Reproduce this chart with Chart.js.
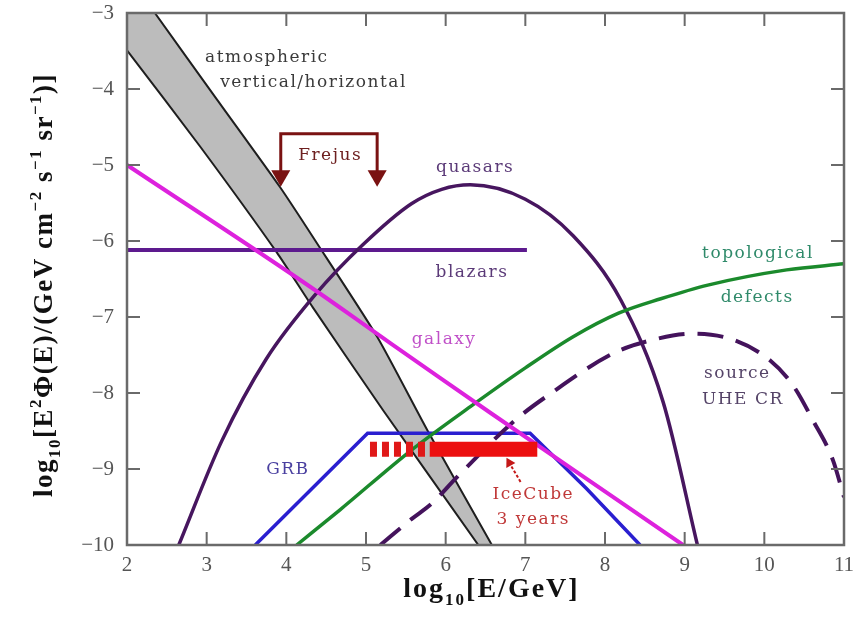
<!DOCTYPE html>
<html>
<head>
<meta charset="utf-8">
<script src="https://cdn.jsdelivr.net/npm/chart.js@4.4.1/dist/chart.umd.min.js"></script>
<style>
  html, body { margin: 0; padding: 0; background: #fff; }
  #wrap { width: 856px; height: 627px; position: relative; }
</style>
</head>
<body>
<div id="wrap"><canvas id="flux"></canvas></div>
<script>
// axis ticks
const xTickValues = [2, 3, 4, 5, 6, 7, 8, 9, 10, 11];
const xTickLabels = ['2', '3', '4', '5', '6', '7', '8', '9', '10', '11'];
const yTickValues = [-10, -9, -8, -7, -6, -5, -4, -3];
const yTickLabels = ['\u221210', '\u22129', '\u22128', '\u22127', '\u22126', '\u22125', '\u22124', '\u22123'];

// atmospheric band (vertical / horizontal edges)
const atmUpperX = [2.35, 3.13, 3.92, 4.36, 5.14, 5.77, 6.58];
const atmUpperY = [-3, -4.14, -5.29, -5.99, -7.26, -8.49, -10];
const atmLowerX = [2, 2.92, 3.88, 4.33, 5.21, 6.41];
const atmLowerY = [-3.49, -4.76, -6.15, -6.87, -8.22, -10];

// quasars
const quasarX = [2.65, 3.19, 3.75, 4.36, 4.96, 5.57, 5.95, 6.31, 7.0, 7.6, 8.2, 8.73, 9.16];
const quasarY = [-10, -8.63, -7.55, -6.71, -6.05, -5.51, -5.32, -5.26, -5.45, -5.93, -6.78, -8.12, -10];

// blazars
const blazarX = [2, 7.02];
const blazarY = [-6.12, -6.12];

// galaxy
const galaxyX = [2, 4.17, 5.30, 6.56, 8.98];
const galaxyY = [-5.0, -6.51, -7.34, -8.26, -10];

// GRB
const grbX = [3.61, 5.02, 7.06, 7.77, 8.44];
const grbY = [-10, -8.53, -8.53, -9.26, -10];

// topological defects
const topoX = [4.13, 4.67, 5.56, 6.31, 7.0, 7.6, 8.17, 8.7, 9.29, 10.28, 11];
const topoY = [-10, -9.54, -8.76, -8.18, -7.67, -7.26, -6.95, -6.76, -6.58, -6.38, -6.3];

// source UHE CR (dashed)
const uhecrX = [5.18, 5.57, 5.83, 6.13, 6.87, 7.30, 8.12, 8.6, 9.1, 9.61, 10.07, 10.36, 10.61, 10.86, 11.0];
const uhecrY = [-10, -9.66, -9.45, -9.12, -8.36, -8.02, -7.47, -7.30, -7.22, -7.30, -7.57, -7.90, -8.36, -8.88, -9.37];

// Frejus limit bracket
const frejusX = [3.93, 3.93, 5.14, 5.14];
const frejusY = [-5.14, -4.59, -4.59, -5.14];

// IceCube 3 years
const icecubeX = [5.8, 7.15];
const icecubeY = [-8.74, -8.74];
const icecubeDashX = [5.05, 5.8];
const icecubeDashY = [-8.74, -8.74];
const icecubeArrowX = [6.94, 6.80];
const icecubeArrowY = [-9.17, -8.92];

const pts = (xs, ys) => xs.map((x, i) => ({ x, y: ys[i] }));

// band polygon: top-left corner, upper edge down, lower edge back up
const bandPoly = [{ x: 2, y: -3 }]
  .concat(pts(atmUpperX, atmUpperY))
  .concat(pts(atmLowerX, atmLowerY).reverse());

// in-plot labels, in data coordinates
const labels = [
  { t: 'atmospheric', x: 2.98, y: -3.58, c: '#3a3a3a', a: 'left' },
  { t: 'vertical/horizontal', x: 3.17, y: -3.92, c: '#3a3a3a', a: 'left' },
  { t: 'Frejus', x: 4.55, y: -4.87, c: '#6e2020', a: 'center' },
  { t: 'quasars', x: 6.37, y: -5.03, c: '#5b3a78', a: 'center' },
  { t: 'blazars', x: 6.33, y: -6.42, c: '#5b3a78', a: 'center' },
  { t: 'galaxy', x: 5.98, y: -7.30, c: '#c050c8', a: 'center' },
  { t: 'topological', x: 9.92, y: -6.17, c: '#2f8a6a', a: 'center' },
  { t: 'defects', x: 9.91, y: -6.74, c: '#2f8a6a', a: 'center' },
  { t: 'source', x: 9.66, y: -7.74, c: '#554468', a: 'center' },
  { t: 'UHE CR', x: 9.73, y: -8.08, c: '#554468', a: 'center' },
  { t: 'GRB', x: 4.02, y: -9.01, c: '#4a40a0', a: 'center' },
  { t: 'IceCube', x: 7.10, y: -9.34, c: '#c03838', a: 'center' },
  { t: '3 years', x: 7.10, y: -9.67, c: '#c03838', a: 'center' }
];

function drawRich(ctx, parts, size, spacing) {
  const big = 'bold ' + size + 'px "Liberation Serif", "DejaVu Serif", serif';
  const small = 'bold ' + Math.round(size * 0.62) + 'px "Liberation Serif", "DejaVu Serif", serif';
  ctx.letterSpacing = spacing + 'px';
  let total = 0;
  parts.forEach(p => { ctx.font = p.s ? small : big; total += ctx.measureText(p.t).width; });
  let x = -total / 2;
  ctx.textAlign = 'left';
  ctx.textBaseline = 'alphabetic';
  parts.forEach(p => {
    ctx.font = p.s ? small : big;
    const dy = p.s === 'sub' ? size * 0.28 : p.s === 'sup' ? -size * 0.42 : 0;
    ctx.fillText(p.t, x, size * 0.35 + dy);
    x += ctx.measureText(p.t).width;
  });
  ctx.letterSpacing = '0px';
}

const framePlugin = {
  id: 'frame',
  afterDraw(chart) {
    const { ctx, chartArea: a, scales } = chart;
    ctx.save();
    // frame
    ctx.strokeStyle = '#6a6a6a';
    ctx.lineWidth = 2.5;
    ctx.strokeRect(a.left, a.top, a.right - a.left, a.bottom - a.top);
    // inward ticks on all four sides
    const tl = 13;
    ctx.lineWidth = 2;
    ctx.beginPath();
    scales.x.ticks.forEach(t => {
      const px = scales.x.getPixelForValue(t.value);
      if (px <= a.left + 1 || px >= a.right - 1) return;
      ctx.moveTo(px, a.bottom); ctx.lineTo(px, a.bottom - tl);
      ctx.moveTo(px, a.top); ctx.lineTo(px, a.top + tl);
    });
    scales.y.ticks.forEach(t => {
      const py = scales.y.getPixelForValue(t.value);
      if (py <= a.top + 1 || py >= a.bottom - 1) return;
      ctx.moveTo(a.left, py); ctx.lineTo(a.left + tl, py);
      ctx.moveTo(a.right, py); ctx.lineTo(a.right - tl, py);
    });
    ctx.stroke();

    // labels
    ctx.font = '17px "DejaVu Serif", serif';
    ctx.letterSpacing = '1.5px';
    ctx.textBaseline = 'middle';
    labels.forEach(l => {
      ctx.fillStyle = l.c;
      ctx.textAlign = l.a;
      ctx.fillText(l.t, scales.x.getPixelForValue(l.x), scales.y.getPixelForValue(l.y));
    });
    ctx.letterSpacing = '0px';

    // axis titles
    ctx.fillStyle = '#111';
    ctx.save();
    ctx.translate((a.left + a.right) / 2 + 6, 587);
    drawRich(ctx, [{ t: 'log' }, { t: '10', s: 'sub' }, { t: '[E/GeV]' }], 28, 2);
    ctx.restore();
    ctx.save();
    ctx.translate(43, 285);
    ctx.rotate(-Math.PI / 2);
    drawRich(ctx, [
      { t: 'log' }, { t: '10', s: 'sub' }, { t: '[E' }, { t: '2', s: 'sup' },
      { t: '\u03A6(E)/(GeV cm' }, { t: '\u22122', s: 'sup' }, { t: ' s' }, { t: '\u22121', s: 'sup' },
      { t: ' sr' }, { t: '\u22121', s: 'sup' }, { t: ')]' }
    ], 27, 1.5);
    ctx.restore();
    ctx.restore();
  }
};

const line = (data, color, width, extra) => Object.assign({
  data, borderColor: color, borderWidth: width, pointRadius: 0,
  fill: false, tension: 0.4, clip: 0
}, extra || {});

// keep the plot area fixed: no extra room for tick-label overhang
const noPad = s => { s.paddingTop = 0; s.paddingBottom = 0; s.paddingLeft = 0; s.paddingRight = 0; };

new Chart(document.getElementById('flux'), {
  type: 'line',
  data: {
    datasets: [
      line(bandPoly, 'rgba(0,0,0,0)', 0, { backgroundColor: '#bcbcbc', fill: 'shape', tension: 0, order: 20 }),
      line(pts(atmUpperX, atmUpperY), '#1e1e1e', 2, { tension: 0.2, order: 19 }),
      line(pts(atmLowerX, atmLowerY), '#1e1e1e', 2, { tension: 0.2, order: 19 }),
      line(pts(blazarX, blazarY), '#5d1a8e', 4, { order: 10 }),
      line(pts(quasarX, quasarY), '#47165f', 3.5, { cubicInterpolationMode: 'monotone', order: 9 }),
      line(pts(grbX, grbY), '#2a1fd0', 3.5, { tension: 0, order: 8 }),
      line(pts(topoX, topoY), '#1b8a2c', 3.5, { cubicInterpolationMode: 'monotone', order: 7 }),
      line(pts(uhecrX, uhecrY), '#44135c', 4, { borderDash: [26, 13], cubicInterpolationMode: 'monotone', order: 6 }),
      line(pts(galaxyX, galaxyY), '#dd22dd', 4, { order: 5 }),
      line(pts(icecubeDashX, icecubeDashY), '#e01818', 15, { borderDash: [7, 5], borderCapStyle: 'butt', tension: 0, order: 4 }),
      line(pts(icecubeX, icecubeY), '#ec1010', 15, { borderCapStyle: 'butt', tension: 0, order: 3 }),
      line(pts(icecubeArrowX, icecubeArrowY), '#c41818', 2, {
        borderDash: [3, 2], tension: 0, order: 2,
        pointRadius: [0, 6], pointStyle: 'triangle', rotation: -29,
        pointBackgroundColor: '#c41818', pointBorderColor: '#c41818', pointBorderWidth: 0
      }),
      line(pts(frejusX, frejusY), '#7a1212', 3, {
        tension: 0, order: 1,
        pointRadius: [11, 0, 0, 11], pointStyle: 'triangle', rotation: 180,
        pointBackgroundColor: '#7a1212', pointBorderColor: '#7a1212', pointBorderWidth: 0
      })
    ]
  },
  options: {
    responsive: true,
    maintainAspectRatio: false,
    animation: false,
    events: [],
    layout: { padding: { top: 13, right: 12, left: 0, bottom: 0 } },
    plugins: { legend: { display: false }, tooltip: { enabled: false } },
    scales: {
      x: {
        type: 'linear', min: 2, max: 11,
        afterFit: s => { s.height = 82; noPad(s); },
        afterBuildTicks: s => { s.ticks = xTickValues.map(v => ({ value: v })); },
        grid: { display: false, drawTicks: false },
        border: { display: false },
        ticks: {
          padding: 8, color: '#555',
          font: { family: '"Liberation Serif", serif', size: 21 },
          callback: v => xTickLabels[xTickValues.indexOf(v)]
        }
      },
      y: {
        type: 'linear', min: -10, max: -3,
        afterFit: s => { s.width = 127; noPad(s); },
        afterBuildTicks: s => { s.ticks = yTickValues.map(v => ({ value: v })); },
        grid: { display: false, drawTicks: false },
        border: { display: false },
        ticks: {
          padding: 13, color: '#555',
          font: { family: '"Liberation Serif", serif', size: 21 },
          callback: v => yTickLabels[yTickValues.indexOf(v)]
        }
      }
    }
  },
  plugins: [framePlugin]
});
</script>
</body>
</html>
